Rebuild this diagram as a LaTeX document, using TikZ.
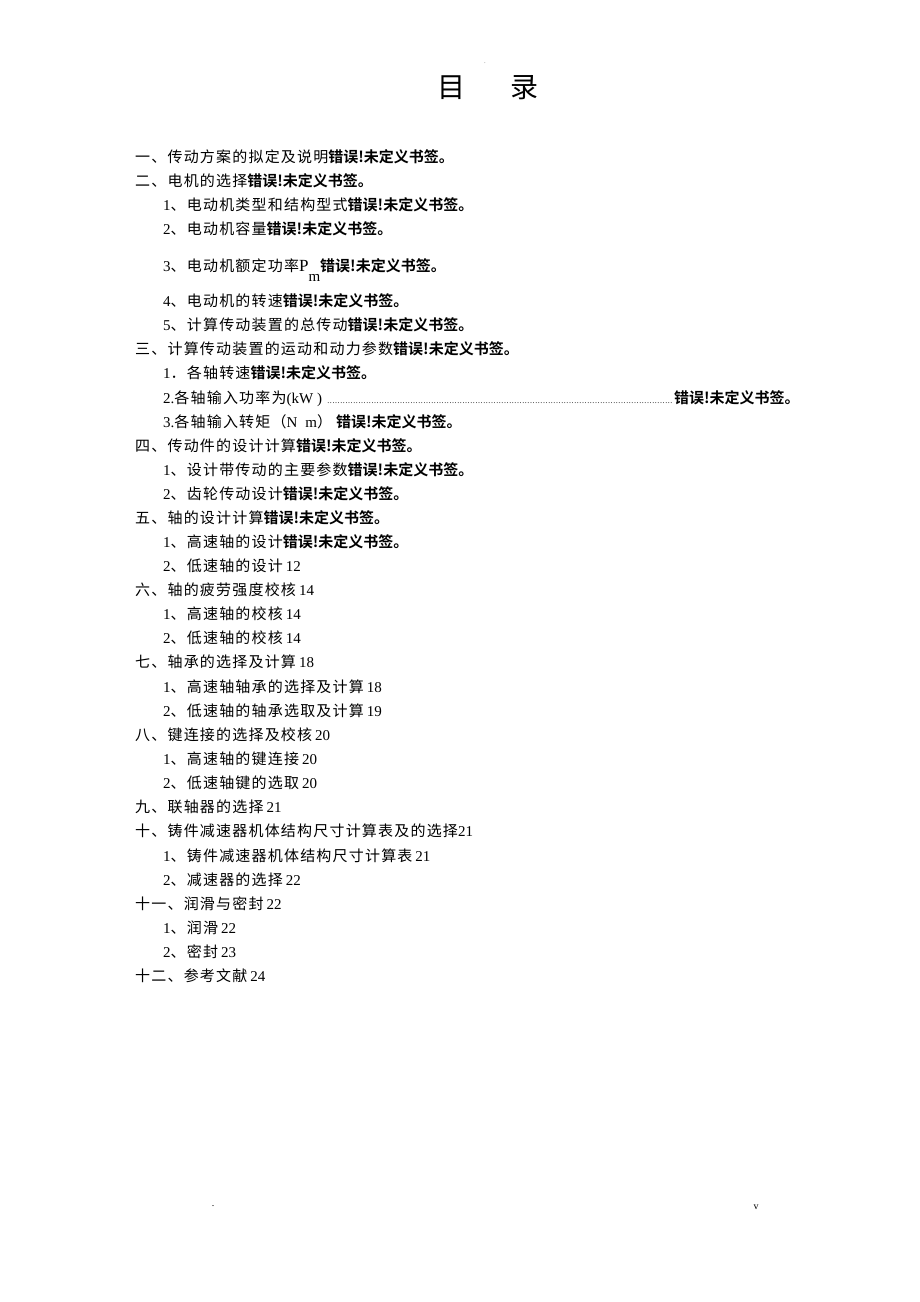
\documentclass[tikz,border=0pt]{standalone}
\usepackage{fontspec}
\setmainfont{Liberation Serif}
\newfontfamily\cjk[LetterSpace=8]{Noto Sans CJK SC}
\newfontfamily\cjkb{Noto Sans CJK SC Bold}
\newcommand\bkerr{{\cjkb 错误!未定义书签。}}
\newcommand\pg[1]{\hspace{3pt}#1}
\newcommand\tocdots{\leaders\hbox to 2.6pt{\hss\fontsize{8}{8}\selectfont.\hss}\hskip 348pt}
\tikzset{
  entry/.style={anchor=base west, inner sep=0pt, font=\fontsize{15}{18}\selectfont},
}

\begin{document}
\begin{tikzpicture}[x=1pt,y=-1pt]
  \fill[white] (0,0) rectangle (920,1302);
  \useasboundingbox (0,0) rectangle (920,1302);
  \node[inner sep=0pt, font=\fontsize{5}{5}\selectfont] (topdot) at (485,63) {.};
  \node[inner sep=0pt, font=\fontsize{28}{30}\selectfont] (title) at (488,88) {\cjk 目\hspace{45pt}录};

  \node[entry] (s1) at (135,162) {{\cjk 一、传动方案的拟定及说明}\bkerr};
  \node[entry] (s2) at (135,186) {{\cjk 二、电机的选择}\bkerr};
  \node[entry] (s2a) at (163,210) {1{\cjk 、电动机类型和结构型式}\bkerr};
  \node[entry] (s2b) at (163,234) {2{\cjk 、电动机容量}\bkerr};
  \node[entry] (s2c) at (163,271) {3{\cjk 、电动机额定功率}{\fontsize{17}{18}\selectfont P}\raisebox{-10pt}{m}\bkerr};
  \node[entry] (s2d) at (163,306) {4{\cjk 、电动机的转速}\bkerr};
  \node[entry] (s2e) at (163,330) {5{\cjk 、计算传动装置的总传动}\bkerr};
  \node[entry] (s3) at (135,354) {{\cjk 三、计算传动装置的运动和动力参数}\bkerr};
  \node[entry] (s3a) at (163,378) {1{\cjk ．各轴转速}\bkerr};
  \node[entry] (s3b) at (163,403) {2.{\cjk 各轴输入功率为}(kW )\hspace{4pt}\tocdots\bkerr};
  \node[entry] (s3c) at (163,427) {3.{\cjk 各轴输入转矩（}N\hspace{8pt}m{\cjk ）}\hspace{4pt}\bkerr};
  \node[entry] (s4) at (135,451) {{\cjk 四、传动件的设计计算}\bkerr};
  \node[entry] (s4a) at (163,475) {1{\cjk 、设计带传动的主要参数}\bkerr};
  \node[entry] (s4b) at (163,499) {2{\cjk 、齿轮传动设计}\bkerr};
  \node[entry] (s5) at (135,523) {{\cjk 五、轴的设计计算}\bkerr};
  \node[entry] (s5a) at (163,547) {1{\cjk 、高速轴的设计}\bkerr};
  \node[entry] (s5b) at (163,571) {2{\cjk 、低速轴的设计}\pg{12}};
  \node[entry] (s6) at (135,595) {{\cjk 六、轴的疲劳强度校核}\pg{14}};
  \node[entry] (s6a) at (163,619) {1{\cjk 、高速轴的校核}\pg{14}};
  \node[entry] (s6b) at (163,643) {2{\cjk 、低速轴的校核}\pg{14}};
  \node[entry] (s7) at (135,667) {{\cjk 七、轴承的选择及计算}\pg{18}};
  \node[entry] (s7a) at (163,692) {1{\cjk 、高速轴轴承的选择及计算}\pg{18}};
  \node[entry] (s7b) at (163,716) {2{\cjk 、低速轴的轴承选取及计算}\pg{19}};
  \node[entry] (s8) at (135,740) {{\cjk 八、键连接的选择及校核}\pg{20}};
  \node[entry] (s8a) at (163,764) {1{\cjk 、高速轴的键连接}\pg{20}};
  \node[entry] (s8b) at (163,788) {2{\cjk 、低速轴键的选取}\pg{20}};
  \node[entry] (s9) at (135,812) {{\cjk 九、联轴器的选择}\pg{21}};
  \node[entry] (s10) at (135,836) {{\cjk 十、铸件减速器机体结构尺寸计算表及的选择}21};
  \node[entry] (s10a) at (163,861) {1{\cjk 、铸件减速器机体结构尺寸计算表}\pg{21}};
  \node[entry] (s10b) at (163,885) {2{\cjk 、减速器的选择}\pg{22}};
  \node[entry] (s11) at (135,909) {{\cjk 十一、润滑与密封}\pg{22}};
  \node[entry] (s11a) at (163,933) {1{\cjk 、润滑}\pg{22}};
  \node[entry] (s11b) at (163,957) {2{\cjk 、密封}\pg{23}};
  \node[entry] (s12) at (135,981) {{\cjk 十二、参考文献}\pg{24}};

  \node[inner sep=0pt, font=\fontsize{10}{10}\selectfont] (footdot) at (213,1206) {.};
  \node[inner sep=0pt, font=\fontsize{10}{10}\selectfont] (folio) at (756,1207) {v};
\end{tikzpicture}
\end{document}
